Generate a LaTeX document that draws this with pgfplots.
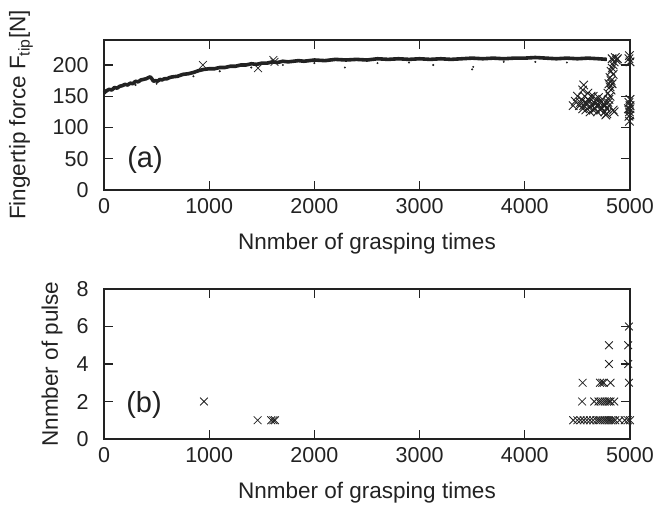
\documentclass[border=0pt]{standalone}
\usepackage{fontspec}
\setmainfont{Liberation Sans}
\usepackage{pgfplots}
\pgfplotsset{compat=1.18}
\definecolor{ink}{HTML}{222222}
\newcommand\tickfont{\fontsize{21.5bp}{25bp}\selectfont}
\newcommand\labfont{\fontsize{22.5bp}{27bp}\selectfont}
\begin{document}
\begin{tikzpicture}
\path[use as bounding box] (-104bp,-320bp) rectangle (552bp,190bp);
\pgfplotsset{
  myax/.style={
    scale only axis, width=526bp, height=150bp,
    xmin=0, xmax=5000,
    xtick={0,1000,...,5000},
    axis line style={line width=1.3bp, color=ink},
    tick style={line width=1.1bp, color=ink},
    tick align=inside, major tick length=9bp,
    /pgf/number format/assume math mode=true,
    /pgf/number format/1000 sep={},
    tick label style={font=\tickfont, text=ink},
    xticklabel style={yshift=-5bp},
    yticklabel style={xshift=-12bp},
    xlabel style={font=\labfont, text=ink, at={(axis description cs:0.5,0)}, anchor=center, yshift=-54bp},
    clip=false,
  },
}
\begin{axis}[myax, at={(0,0)}, anchor=south west,
  ymin=0, ymax=240, ytick={0,50,...,200},
  xlabel={Nnmber of grasping times},
  ylabel={Fingertip force F\textsubscript{tip}[N]},
  ylabel style={font=\labfont, text=ink, at={(axis description cs:0,0.5)}, anchor=center, yshift=83bp},
]
\addplot[ink, line width=3.6bp, line join=round] coordinates {
(0,155)(25,159)(50,161)(75,160)(100,164)(125,163)(150,166)(175,167)(200,169)(225,168)
(250,171)(275,170)(300,174)(325,173)(350,176)(375,177)(400,178)(425,180)(440,181)(455,178)
(470,174)(490,175)(510,174)(530,177)(550,176)(575,178)(600,178)(625,180)(650,181)(700,182)
(750,185)(800,186)(850,188)(900,191)(950,193)(1000,194)(1050,194)(1100,196)(1150,196)(1200,198)
(1250,198)(1300,200)(1350,200)(1400,202)(1450,201)(1500,203)(1550,203)(1600,205)(1650,204)(1700,206)
(1750,205)(1800,206)(1850,207)(1900,206)(1950,207)(2000,208)(2100,207)(2200,209)(2300,208)(2400,209)
(2500,208)(2600,210)(2700,209)(2800,210)(2900,209)(3000,210)(3100,209)(3200,210)(3300,209)(3400,210)
(3500,211)(3600,210)(3700,211)(3800,210)(3900,211)(4000,211)(4100,212)(4200,211)(4300,210)(4400,211)
(4500,210)(4600,211)(4700,210)(4780,209)
};
\addplot[only marks, ink, mark=*, mark size=0.8bp] coordinates {
(2290,196)(3130,200)(3500,193)(3510,197)(1400,196)(1700,200)(500,170)(850,182)(2600,203)(4100,205)
(300,168)(1100,190)(2000,203)(2900,204)(3800,205)(4400,204)
};
\addplot[only marks, ink, mark=x, mark size=5.5bp, line width=0.7bp] coordinates {
(941,200)(1465,195)(1610,208)(1620,205)
};
\addplot[only marks, ink, mark=x, mark size=6bp, line width=0.9bp] coordinates {
(4460,135)(4480,142)(4500,150)
(4520,135)(4540,145)(4550,160)(4560,168)(4570,150)(4580,140)(4590,138)(4600,145)(4610,132)(4620,142)
(4630,150)(4640,135)(4650,128)(4660,140)(4670,130)(4680,145)(4690,125)(4700,135)(4710,140)(4720,128)
(4730,132)(4740,145)(4750,138)(4760,125)(4770,120)(4780,130)(4790,140)(4800,135)(4810,150)(4820,160)
(4800,170)(4810,180)(4820,190)(4830,195)(4840,200)(4830,210)(4850,205)(4860,212)(4870,208)(4880,210)
(4790,155)(4800,145)(4820,175)(4840,185)(4850,125)(4600,155)(4650,150)(4700,148)(4550,130)(4580,128)
(4620,125)(4760,135)(4840,128)(4530,140)(4560,135)(4670,138)(4720,142)(4780,122)(4810,165)(4830,170)
(4990,210)(5000,205)(4995,215)(4990,140)(5000,130)(4995,125)(5000,120)(4990,118)(4995,110)(5000,135)
(4985,130)(5000,145)
};
\node[font=\fontsize{29bp}{33bp}\selectfont, text=ink] at (axis cs:390,48) {(a)};
\end{axis}
\begin{axis}[myax, at={(0,-249bp)}, anchor=south west,
  ymin=0, ymax=8, ytick={0,2,...,8},
  xlabel={Nnmber of grasping times},
  ylabel={Nnmber of pulse},
  ylabel style={font=\labfont, text=ink, at={(axis description cs:0,0.5)}, anchor=center, yshift=52bp},
]
\addplot[only marks, ink, mark=x, mark size=5.5bp, line width=0.8bp] coordinates {
(950,2)(1460,1)(1590,1)(1610,1)(1625,1)
(4460,1)(4500,1)(4530,1)(4560,1)(4590,1)(4620,1)(4650,1)(4680,1)(4700,1)(4720,1)(4740,1)(4760,1)(4780,1)
(4800,1)(4820,1)(4840,1)(4860,1)(4900,1)(4950,1)(4980,1)(5000,1)
(4545,2)(4660,2)(4700,2)(4720,2)(4740,2)(4760,2)(4780,2)(4800,2)(4815,2)(4850,2)
(4550,3)(4715,3)(4735,3)(4750,3)(4815,3)(4990,3)
(4800,4)(4983,4)
(4800,5)(4983,5)
(4990,6)
};
\node[font=\fontsize{29bp}{33bp}\selectfont, text=ink] at (axis cs:380,1.83) {(b)};
\end{axis}
\end{tikzpicture}
\end{document}
